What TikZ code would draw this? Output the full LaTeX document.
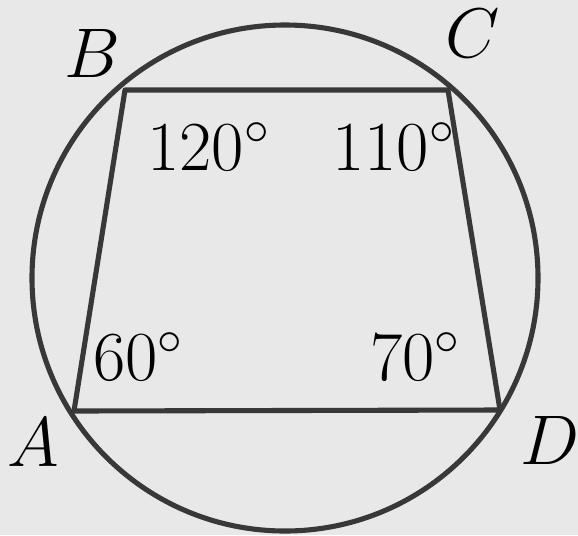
\documentclass[tikz,border=0pt]{standalone}
\usepackage{fix-cm}
\usepackage{tikz}
\usetikzlibrary{positioning}

\begin{document}
\begin{tikzpicture}[
  x=0.02cm,y=-0.02cm,
  every node/.style={font=\fontsize{40}{48}\selectfont,inner sep=0pt},
  edge/.style={line width=2.9pt,draw=black!78},
  vert/.style={anchor=center},
  ang/.style={anchor=base west}
]
  \useasboundingbox[fill=black!9] (0,0) rectangle (578,535);
  \coordinate (O) at (285,278);
  \coordinate (B) at (125,90);
  \coordinate (C) at (448,90);
  \coordinate (A) at (74,411);
  \coordinate (D) at (500,410);

  \draw[edge] (O) circle[radius=253];
  \draw[edge,line join=round] (A) -- (B) -- (C) -- (D) -- cycle;

  \node[vert] (lblB) at (92,53) {$B$};
  \node[vert] (lblC) at (473,33) {$C$};
  \node[vert] (lblA) at (33,442) {$A$};
  \node[vert] (lblD) at (550,440) {$D$};

  \node[ang] (angB) at (147,170) {$120^\circ$};
  \node[ang] (angC) at (332,170) {$110^\circ$};
  \node[ang] (angA) at (93,380) {$60^\circ$};
  \node[ang] (angD) at (370,380) {$70^\circ$};
\end{tikzpicture}
\end{document}
